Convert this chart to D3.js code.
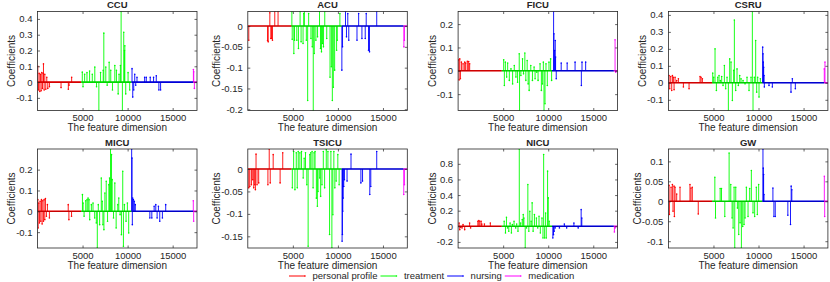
<!DOCTYPE html>
<html>
<head>
<meta charset="utf-8">
<script src="https://cdn.jsdelivr.net/npm/d3@7/dist/d3.min.js"></script>
<style>
  body { margin: 0; background: #fff; }
  text { font-family: "Liberation Sans", Arial, sans-serif; fill: #262626; }
  .title { font-size: 9.5px; font-weight: bold; text-anchor: middle; }
  .axis text { font-size: 9.5px; }
  .axis line { stroke: #262626; stroke-width: 0.7; }
  .axis path { display: none; }
  .x-label, .y-label { font-size: 10px; text-anchor: middle; }
  .legend-label { font-size: 9.5px; }
  .box { fill: none; stroke: #262626; stroke-width: 0.8; }
</style>
</head>
<body>
<div id="wrapper"></div>
<script>
// feature groups, split along the feature dimension
const groupNames = ["personal profile", "treatment", "nursing", "medication"]
const groupColors = ["#ff0000", "#00ff00", "#0000ff", "#ff00ff"]
const groupBreaks = [0, 4850, 10420, 17280, 17700]

const units = ["CCU", "ACU", "FICU", "CSRU", "MICU", "TSICU", "NICU", "GW"]
const xTicks = [5000, 10000, 15000]

// y tick labels per unit
const ccuTicks = [-0.1, 0, 0.1, 0.2, 0.3, 0.4]
const acuTicks = [-0.2, -0.15, -0.1, -0.05, 0]
const ficuTicks = [-0.1, 0, 0.1, 0.2]
const csruTicks = [-0.1, 0, 0.1, 0.2, 0.3, 0.4]
const micuTicks = [-0.1, 0, 0.1, 0.2]
const tsicuTicks = [-0.15, -0.1, -0.05, 0]
const nicuTicks = [-0.2, 0, 0.2, 0.4, 0.6, 0.8]
const gwTicks = [-0.1, -0.05, 0, 0.05, 0.1]

// [feature index, coefficient] for the non-zero coefficients
const ccuCoefs = [
  [37, 0.10], [110, -0.05], [184, 0.055], [258, -0.06], [331, 0.05], [405, -0.055], [478, 0.06],
  [552, -0.04], [626, 0.055], [662, 0.115], [736, -0.05], [810, 0.05], [920, -0.045], [1030, 0.03],
  [1141, -0.04], [1325, -0.03], [2613, -0.035], [3422, -0.045], [3496, -0.02], [3790, 0.03],
  [4970, 0.063], [5050, -0.03], [5230, 0.05], [5490, 0.06], [5780, 0.07], [6080, 0.05], [6360, 0.095],
  [6550, -0.03], [6810, -0.18], [7000, 0.06], [7290, 0.075], [7360, 0.31], [7580, 0.095], [7730, -0.02],
  [7950, 0.125], [8130, 0.075], [8320, -0.05], [8580, 0.105], [8760, 0.075], [8950, -0.075], [9050, 0.05],
  [9200, 0.105], [9280, 0.447], [9420, -0.18], [9570, 0.316], [9650, 0.2], [9690, 0.23], [9790, -0.075],
  [10050, 0.06], [10230, -0.05],
  [10490, 0.085], [10570, -0.095], [10680, -0.05], [10790, 0.05], [10900, -0.02], [11040, 0.03],
  [11890, 0.03], [12070, 0.03], [12510, 0.03], [12880, 0.03], [13180, 0.04], [13470, -0.05], [13660, -0.05],
  [17300, 0.08], [17340, 0.065], [17410, -0.04],
]
const acuCoefs = [
  [110, -0.034], [2190, -0.035], [2263, -0.038], [2445, 0.032], [2555, -0.03], [2628, -0.03], [2738, -0.034],
  [2993, 0.035], [3358, 0.035],
  [4891, 0.035], [4928, -0.032], [5110, -0.066], [5183, -0.034], [5439, -0.034], [5621, -0.054], [5804, 0.035],
  [5913, -0.038], [6132, -0.042], [6205, 0.03], [6278, 0.035], [6497, -0.034], [6643, -0.179], [6753, 0.03],
  [7008, -0.03], [7154, -0.05], [7264, -0.203], [7373, -0.066], [7556, -0.034], [7738, -0.026], [7957, 0.035],
  [8067, -0.054], [8176, -0.062], [8286, -0.042], [8395, -0.05], [8541, 0.035], [8760, -0.03], [9125, -0.123],
  [9271, -0.098], [9381, -0.179], [9490, -0.147], [9636, -0.106], [9855, -0.058], [9928, -0.034], [10220, 0.03],
  [10439, -0.106], [10512, -0.05], [10841, 0.035], [10950, -0.026], [11096, 0.03], [11206, -0.034],
  [12118, -0.034], [12301, 0.03], [12666, -0.03], [13031, -0.03], [13140, 0.03], [13396, -0.058],
  [13505, -0.062], [14308, 0.035],
  [17320, -0.05], [17380, -0.034],
]
const ficuCoefs = [
  [73, 0.047], [110, -0.039], [183, 0.051], [257, -0.034], [367, 0.037], [550, 0.03], [733, 0.037],
  [843, 0.033], [1027, 0.041], [1173, 0.04], [1283, 0.03],
  [5060, 0.047], [5133, -0.063], [5244, 0.037], [5390, -0.027], [5500, 0.033], [5684, -0.041], [5867, 0.009],
  [6050, -0.056], [6234, 0.023], [6417, -0.027], [6600, -0.049], [6784, 0.073], [6820, -0.17], [6967, -0.02],
  [7150, 0.051], [7260, -0.013], [7407, 0.076], [7517, -0.041], [7664, 0.044], [7774, -0.056], [7884, -0.084],
  [8067, 0.023], [8250, -0.041], [8434, 0.016], [8544, -0.034], [8727, -0.006], [8874, -0.041], [9094, 0.03],
  [9241, -0.084], [9351, -0.056], [9461, 0.037], [9534, -0.17], [9644, -0.141], [9754, 0.03], [9901, -0.063],
  [10084, 0.037], [10268, 0.051], [10378, -0.041],
  [10598, 0.254], [10634, 0.159], [10708, 0.087], [10781, 0.13], [10818, 0.059], [10891, -0.034],
  [11441, 0.033], [12101, 0.033], [12981, 0.037], [13678, -0.063], [13751, 0.037], [14155, 0.037],
  [17417, 0.133], [17490, -0.006],
]
const csruCoefs = [
  [74, 0.043], [148, -0.035], [259, 0.037], [370, -0.045], [444, 0.043], [555, 0.033], [629, -0.041],
  [740, 0.033], [924, 0.014], [1109, 0.024], [1664, -0.025], [2292, -0.035], [3513, 0.037], [3624, 0.033],
  [3771, 0.024],
  [4917, 0.057], [5028, 0.033], [5176, 0.2], [5324, -0.045], [5472, 0.033], [5619, 0.043], [5767, 0.014],
  [5915, 0.037], [6063, -0.016], [6211, 0.102], [6359, -0.035], [6507, 0.033], [6655, -0.163], [6802, 0.141],
  [6950, 0.122], [7098, -0.104], [7246, 0.073], [7320, 0.37], [7468, -0.045], [7616, 0.082], [7764, -0.016],
  [7912, 0.043], [8059, 0.024], [8281, 0.014], [8503, -0.006], [8725, 0.033], [8947, -0.045], [9169, 0.033],
  [9316, 0.42], [9390, -0.163], [9538, 0.033], [9686, 0.249], [9797, -0.055], [9908, 0.033], [10056, -0.084],
  [10204, 0.024],
  [10463, 0.21], [10499, 0.171], [10536, 0.122], [10573, 0.092], [10610, 0.043], [10647, -0.025],
  [11165, -0.016], [11535, -0.025], [13605, -0.055], [13753, 0.024], [14086, -0.035],
  [17300, 0.082], [17374, 0.122],
]
const micuCoefs = [
  [37, 0.056], [73, -0.08], [147, 0.04], [220, -0.056], [293, 0.048], [367, -0.048], [440, 0.056],
  [513, -0.061], [587, 0.051], [660, -0.048], [733, 0.056], [807, -0.04], [880, 0.061], [990, -0.024],
  [1100, 0.032], [1320, -0.032], [3410, 0.032], [3484, -0.04], [3777, -0.024],
  [4987, 0.08], [5060, 0.04], [5170, -0.024], [5354, 0.051], [5500, 0.056], [5610, 0.064], [5720, 0.056],
  [5794, -0.04], [5977, 0.032], [6160, 0.04], [6344, -0.032], [6527, -0.056], [6637, -0.176], [6747, 0.032],
  [6894, -0.064], [7077, 0.16], [7187, 0.048], [7260, -0.064], [7370, -0.088], [7480, 0.088], [7627, 0.144],
  [7774, -0.048], [7920, 0.128], [7994, 0.16], [8104, 0.299], [8214, 0.272], [8287, 0.152], [8434, -0.032],
  [8580, 0.136], [8727, -0.08], [8910, 0.032], [9020, 0.064], [9167, -0.016], [9314, -0.112], [9460, 0.192],
  [9534, -0.168], [9644, 0.032], [9827, -0.048], [9974, 0.04], [10120, -0.104],
  [10450, 0.299], [10487, 0.256], [10524, -0.064], [10560, 0.064], [10634, 0.056], [10744, 0.048],
  [10854, 0.032], [12467, -0.032], [12687, -0.032], [12944, 0.024], [13127, 0.032], [13274, -0.032],
  [13420, 0.024], [13567, -0.048], [13860, -0.032], [14227, 0.032],
  [17290, 0.051], [17330, -0.048],
]
const tsicuCoefs = [
  [110, -0.042], [220, -0.039], [402, -0.035], [549, -0.024], [659, -0.042], [768, -0.035], [842, -0.046],
  [915, 0.033], [1025, -0.035], [1208, -0.031], [2232, -0.035], [2378, 0.0445], [2488, -0.031], [2817, 0.032],
  [3586, -0.031], [3878, 0.036],
  [4940, -0.042], [5086, 0.039], [5232, -0.046], [5379, 0.036], [5489, -0.042], [5598, 0.039], [5781, 0.036],
  [5964, 0.039], [6147, -0.02], [6257, 0.024], [6403, 0.036], [6550, -0.035], [6696, -0.172], [6879, 0.032],
  [6989, 0.036], [7135, 0.039], [7245, -0.042], [7355, 0.036], [7464, 0.039], [7611, -0.065], [7720, -0.083],
  [7794, -0.05], [7977, -0.02], [8086, -0.061], [8233, -0.035], [8379, 0.039], [8525, -0.042], [8708, 0.043],
  [8891, 0.039], [9074, -0.146], [9221, 0.039], [9330, -0.176], [9440, -0.102], [9550, 0.039], [9660, -0.042],
  [9806, -0.027], [9989, 0.032], [10135, -0.035],
  [10465, -0.161], [10501, -0.146], [10538, -0.094], [10575, -0.065], [10648, -0.039], [10721, -0.024],
  [11014, -0.027], [11453, 0.033], [12550, -0.031], [12733, -0.027], [13538, -0.057], [13648, -0.039],
  [14307, 0.039],
  [17307, -0.057], [17380, -0.035],
]
const nicuCoefs = [
  [110, 0.043], [183, -0.043], [292, -0.013], [438, -0.021], [548, 0.021], [730, -0.043], [1278, 0.043],
  [1387, -0.021], [2191, 0.064], [2300, 0.073], [2410, 0.064], [2556, 0.064], [2629, 0.03], [2921, 0.03],
  [3578, 0.043],
  [5111, 0.064], [5257, -0.086], [5367, 0.116], [5477, -0.021], [5623, -0.064], [5769, 0.043], [5915, -0.086],
  [6024, 0.021], [6207, 0.064], [6389, -0.021], [6499, 0.03], [6645, -0.064], [6791, 0.99], [6937, 0.043],
  [7119, 0.086], [7229, 0.15], [7302, 0.107], [7448, -0.278], [7594, -0.021], [7740, 0.535], [7850, -0.064],
  [7959, 0.193], [8105, 0.064], [8215, 0.3], [8324, -0.064], [8470, 0.15], [8689, 0.107], [8835, -0.021],
  [8981, 0.128], [9128, -0.086], [9310, 0.107], [9420, -0.15], [9493, 0.92], [9602, -0.15], [9712, 0.171],
  [9785, -0.15], [9931, 0.706], [10004, 0.364], [10113, 0.064],
  [10515, -0.15], [10588, -0.107], [10661, -0.064], [10770, -0.021], [11245, -0.021], [11793, 0.03],
  [12048, -0.021], [12852, 0.043], [13326, -0.021], [13655, 0.214], [13728, 0.107],
  [17344, -0.073], [17417, -0.021],
]
const gwCoefs = [
  [74, 0.04], [110, -0.033], [295, 0.035], [442, 0.042], [515, -0.025], [626, 0.038], [663, -0.038],
  [736, 0.035], [920, 0.018], [1289, 0.035], [2393, 0.042], [2504, 0.033], [2651, 0.035], [3314, -0.032],
  [5155, 0.06], [5228, -0.042], [5744, 0.032], [5891, 0.032], [6259, -0.038], [6738, 0.121], [6922, 0.042],
  [7069, -0.042], [7180, -0.067], [7290, 0.035], [7364, -0.117], [7474, 0.035], [7659, -0.017], [7806, -0.083],
  [7953, -0.054], [8100, -0.117], [8248, -0.063], [8395, -0.058], [8505, -0.042], [8653, 0.035], [8837, -0.038],
  [9021, 0.032], [9205, 0.077], [9389, -0.029], [9573, -0.038], [9757, 0.035], [9868, -0.033], [10015, 0.042],
  [10494, 0.131], [10531, 0.083], [10567, 0.067], [10604, 0.017], [11598, 0.033], [11709, -0.038],
  [11856, -0.038], [13255, -0.035], [13550, -0.058], [13624, 0.038], [13697, 0.029],
  [17305, 0.0625], [17342, -0.038],
]

const panels = [
  { name: units[0], coefs: ccuCoefs, yTicks: ccuTicks },
  { name: units[1], coefs: acuCoefs, yTicks: acuTicks },
  { name: units[2], coefs: ficuCoefs, yTicks: ficuTicks },
  { name: units[3], coefs: csruCoefs, yTicks: csruTicks },
  { name: units[4], coefs: micuCoefs, yTicks: micuTicks },
  { name: units[5], coefs: tsicuCoefs, yTicks: tsicuTicks },
  { name: units[6], coefs: nicuCoefs, yTicks: nicuTicks },
  { name: units[7], coefs: gwCoefs, yTicks: gwTicks },
]

function drawChart() {
  const xAccessor = d => d[0]
  const yAccessor = d => d[1]
  const groupOf = x => Math.min(groupNames.length - 1, d3.bisectRight(groupBreaks, x) - 1)

  let dimensions = {
    width: 830,
    height: 282,
    panelWidth: 159.5,
    panelHeight: 99,
    colStep: 210.3,
    rowStep: 137.5,
    margin: { top: 11.5, left: 37.5 },
  }

  const wrapper = d3.select("#wrapper")
    .append("svg")
      .attr("width", dimensions.width)
      .attr("height", dimensions.height)

  const defs = wrapper.append("defs")

  const xScale = d3.scaleLinear()
    .domain([groupBreaks[0], groupBreaks[groupBreaks.length - 1]])
    .range([0, dimensions.panelWidth])

  panels.forEach((panel, i) => {
    const col = i % 4
    const row = Math.floor(i / 4)
    const w = dimensions.panelWidth
    const h = dimensions.panelHeight
    const bounds = wrapper.append("g")
        .attr("transform", `translate(${dimensions.margin.left + col * dimensions.colStep}, ${dimensions.margin.top + row * dimensions.rowStep})`)

    const yScale = d3.scaleLinear()
      .domain(d3.extent(panel.coefs, yAccessor))
      .range([h, 0])

    const clipId = `clip-${i}`
    defs.append("clipPath")
        .attr("id", clipId)
      .append("rect")
        .attr("width", w)
        .attr("height", h)

    const plot = bounds.append("g")
        .attr("clip-path", `url(#${clipId})`)

    // stems
    plot.selectAll(".stem")
        .data(panel.coefs)
      .enter().append("line")
        .attr("class", "stem")
        .attr("x1", d => xScale(xAccessor(d)))
        .attr("x2", d => xScale(xAccessor(d)))
        .attr("y1", yScale(0))
        .attr("y2", d => yScale(yAccessor(d)))
        .attr("stroke", d => groupColors[groupOf(xAccessor(d))])
        .attr("stroke-width", 0.9)

    plot.selectAll(".tip")
        .data(panel.coefs)
      .enter().append("circle")
        .attr("class", "tip")
        .attr("cx", d => xScale(xAccessor(d)))
        .attr("cy", d => yScale(yAccessor(d)))
        .attr("r", 0.8)
        .attr("fill", d => groupColors[groupOf(xAccessor(d))])

    // base line of each group
    plot.selectAll(".base")
        .data(groupNames)
      .enter().append("line")
        .attr("class", "base")
        .attr("x1", (d, g) => xScale(groupBreaks[g]))
        .attr("x2", (d, g) => xScale(groupBreaks[g + 1]))
        .attr("y1", yScale(0))
        .attr("y2", yScale(0))
        .attr("stroke", (d, g) => groupColors[g])
        .attr("stroke-width", 1.6)
    plot.append("line")
        .attr("x1", 0)
        .attr("x2", w)
        .attr("y1", yScale(0))
        .attr("y2", yScale(0))
        .attr("stroke", "rgba(0,0,0,0.35)")
        .attr("stroke-width", 0.8)

    // axes, ticks inside the box
    const yAxis = bounds.append("g")
        .attr("class", "axis")
        .call(d3.axisLeft(yScale).tickValues(panel.yTicks).tickSize(-2.5).tickSizeOuter(0).tickPadding(5).tickFormat(d => String(d)))
    bounds.append("g")
        .attr("class", "axis")
        .attr("transform", `translate(${w}, 0)`)
        .call(d3.axisRight(yScale).tickValues(panel.yTicks).tickSize(-2.5).tickSizeOuter(0).tickFormat(""))
    bounds.append("g")
        .attr("class", "axis")
        .attr("transform", `translate(0, ${h})`)
        .call(d3.axisBottom(xScale).tickValues(xTicks).tickSize(-2.5).tickSizeOuter(0).tickPadding(4).tickFormat(d => String(d)))
    bounds.append("g")
        .attr("class", "axis")
        .call(d3.axisTop(xScale).tickValues(xTicks).tickSize(-2.5).tickSizeOuter(0).tickFormat(""))

    bounds.append("rect")
        .attr("class", "box")
        .attr("width", w)
        .attr("height", h)

    bounds.append("text")
        .attr("class", "title")
        .attr("x", w / 2)
        .attr("y", -3.5)
        .text(panel.name)

    bounds.append("text")
        .attr("class", "x-label")
        .attr("x", w / 2)
        .attr("y", h + 20.5)
        .text("The feature dimension")

    // y label sits left of the widest tick label
    const tickWidth = d3.max(yAxis.selectAll("text").nodes(), n => n.getComputedTextLength())
    bounds.append("text")
        .attr("class", "y-label")
        .attr("transform", `translate(${-6 - tickWidth}, ${h / 2}) rotate(-90)`)
        .text("Coefficients")
  })

  // legend
  const legend = wrapper.append("g")
      .attr("transform", "translate(289, 276)")
  let legendX = 0
  groupNames.forEach((name, g) => {
    const item = legend.append("g")
        .attr("transform", `translate(${legendX}, 0)`)
    item.append("line")
        .attr("x1", 0)
        .attr("x2", 16)
        .attr("stroke", groupColors[g])
        .attr("stroke-width", 1)
    item.append("circle")
        .attr("cx", 16)
        .attr("r", 0.8)
        .attr("fill", groupColors[g])
    const label = item.append("text")
        .attr("class", "legend-label")
        .attr("x", 23.5)
        .attr("dy", "0.33em")
        .text(name)
    legendX += 23.5 + label.node().getComputedTextLength() + 3
  })
}
drawChart()
</script>
</body>
</html>
